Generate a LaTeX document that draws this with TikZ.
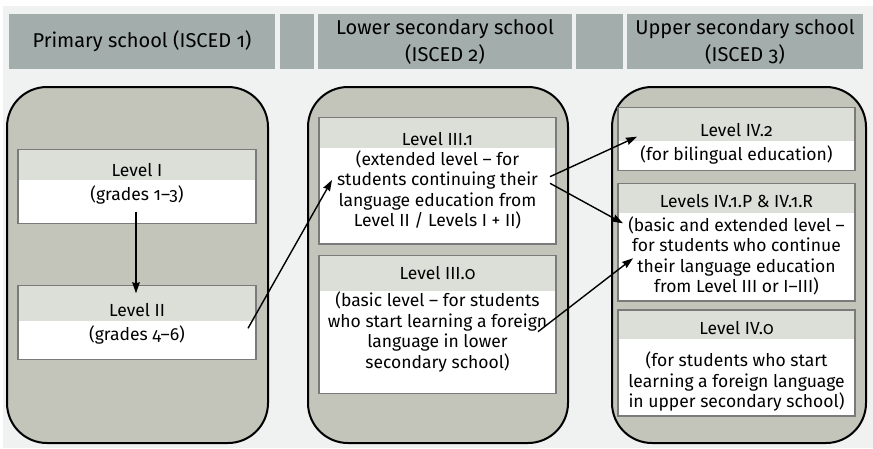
\documentclass[tikz,border=0pt]{standalone}
\usepackage{fontspec}
\setmainfont{Fira Sans}[Numbers=OldStyle]
\usetikzlibrary{arrows.meta}
\definecolor{bgpanel}{HTML}{F0F2F1}
\definecolor{hdrgray}{HTML}{A3ADAB}
\definecolor{colfill}{HTML}{C3C5BB}
\definecolor{bandgray}{HTML}{DCDED8}
\definecolor{boxline}{HTML}{7A7A7A}
\tikzset{
  hdr/.style={fill=hdrgray, draw=none, inner sep=0pt, align=center, minimum height=55pt,
    font=\fontsize{20}{27}\selectfont},
  colbox/.style={fill=colfill, draw=black, line width=2pt, rounded corners=40pt, inner sep=0pt,
    minimum height=356pt},
  lvl/.style={draw=boxline, line width=1.2pt, fill=white, inner sep=0pt,
    path picture={\fill[bandgray] (path picture bounding box.north west) rectangle
      ([yshift=-#1]path picture bounding box.north east);}},
  ttl/.style={inner sep=0pt, font=\fontsize{17.5}{20.5}\selectfont},
  bodytxt/.style={inner sep=0pt, align=center, font=\fontsize{17.5}{20.5}\selectfont},
  arr/.style={line width=1.4pt, -{Stealth[length=11pt,width=7.5pt,inset=1pt]}}
}
\begin{document}
\begin{tikzpicture}[x=1pt,y=-1pt]
\useasboundingbox (0,0) rectangle (873,448);
\fill[white] (0,0) rectangle (873,448);
\fill[bgpanel] (3,6) rectangle (873,448);

% header
\node[hdr, minimum width=266pt] (h1) at (142,41.5) {Primary school (ISCED 1)};
\node[hdr, minimum width=34pt] (g1) at (297,41.5) {};
\node[hdr, minimum width=254pt] (h2) at (445,41.5) {Lower secondary school\\(ISCED 2)};
\node[hdr, minimum width=47pt] (g2) at (599.5,41.5) {};
\node[hdr, minimum width=236pt] (h3) at (745,41.5) {Upper secondary school\\(ISCED 3)};

% columns
\node[colbox, minimum width=261pt] (B1) at (137.5,265) {};
\node[colbox, minimum width=260pt] (B2) at (438,265) {};
\node[colbox, minimum width=254pt] (B3) at (739,265) {};

% left column
\node[lvl=30.7pt, minimum width=238pt, minimum height=74pt] (L1) at (137,186.3) {};
\node[ttl] (L1t) at (137,170) {Level I};
\node[bodytxt] (L1b) at (137,195) {(grades 1–3)};
\node[lvl=35pt, minimum width=238pt, minimum height=73.6pt] (L2) at (137,322.5) {};
\node[ttl] (L2t) at (137,310) {Level II};
\node[bodytxt] (L2b) at (137,335) {(grades 4–6)};

% middle column
\node[lvl=30.6pt, minimum width=237pt, minimum height=126.3pt] (M1) at (437.5,180.85) {};
\node[ttl] (M1t) at (437.5,139.3) {Level III.1};
\node[bodytxt] (M1b) at (437.5,190) {(extended level – for\\students continuing their\\language education from\\Level II / Levels I + II)};
\node[lvl=35pt, minimum width=237pt, minimum height=137.6pt] (M0) at (437.5,324.5) {};
\node[ttl] (M0t) at (437.5,273.3) {Level III.0};
\node[bodytxt] (M0b) at (437.5,332) {(basic level – for students\\who start learning a foreign\\language in lower\\secondary school)};

% right column
\node[lvl=33.7pt, minimum width=237pt, minimum height=63.4pt] (R2) at (736.5,139) {};
\node[ttl] (R2t) at (736.5,130) {Level IV.2};
\node[bodytxt] (R2b) at (736.5,155) {(for bilingual education)};
\node[lvl=30pt, minimum width=237pt, minimum height=117.7pt] (R1) at (736.5,242.2) {};
\node[ttl] (R1t) at (736.5,200.7) {Levels IV.1.P \& IV.1.R};
\node[bodytxt] (R1b) at (736.5,255.8) {(basic and extended level –\\for students who continue\\their language education\\from Level III or I–III)};
\node[lvl=29pt, minimum width=237pt, minimum height=106pt] (R0) at (736.5,363) {};
\node[ttl] (R0t) at (736.5,328.3) {Level IV.0};
\node[bodytxt] (R0b) at (736.5,381.7) {(for students who start\\learning a foreign language\\in upper secondary school)};

% arrow end points
\coordinate (a1s) at (136,211.7);
\coordinate (a1e) at (136,293.3);
\coordinate (a2s) at (248,328.3);
\coordinate (a2e) at (332,180);
\coordinate (a3s) at (550,176.7);
\coordinate (a3e) at (637,136.7);
\coordinate (a4s) at (550,183.3);
\coordinate (a4e) at (623,223.3);
\coordinate (a5s) at (538,331.7);
\coordinate (a5e) at (633,258.3);

\draw[arr] (a1s) -- (a1e);
\draw[arr] (a2s) -- (a2e);
\draw[arr] (a3s) -- (a3e);
\draw[arr] (a4s) -- (a4e);
\draw[arr] (a5s) -- (a5e);
\end{tikzpicture}
\end{document}
